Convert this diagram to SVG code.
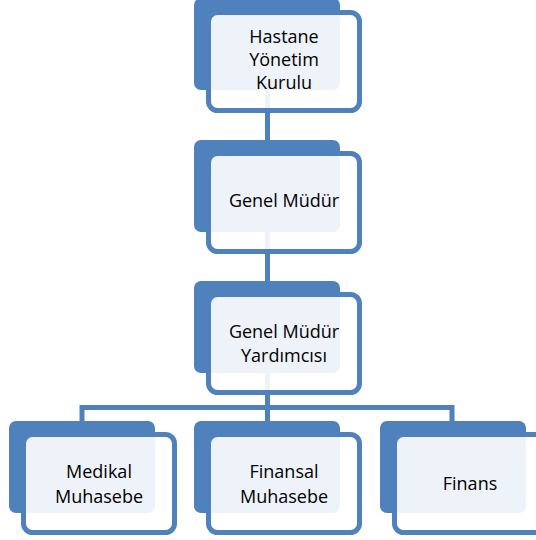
<svg xmlns="http://www.w3.org/2000/svg" width="536" height="540" viewBox="0 0 536 540">
<style>
.back{fill:#4F81BD}
.front{fill:#FFFFFF;fill-opacity:0.9;stroke:#4F81BD;stroke-width:5}
.conn{stroke:#4F81BD;stroke-width:5;fill:none}
text{font-family:"Open Sans","Liberation Sans",sans-serif;font-size:18px;fill:#000;text-anchor:middle}
</style>
<g id="connectors">
<line class="conn" x1="267.5" y1="80" x2="267.5" y2="150"/>
<line class="conn" x1="267.5" y1="220" x2="267.5" y2="290"/>
<line class="conn" x1="267.5" y1="360" x2="267.5" y2="407.5"/>
<polyline class="conn" points="82,430 82,407.5 452,407.5 452,430"/>
<line class="conn" x1="267.5" y1="407.5" x2="267.5" y2="430"/>
</g>
<g id="n1">
<rect class="back" x="194" y="-2" width="146" height="92" rx="7"/>
<rect class="front" x="208.5" y="12.5" width="151" height="98" rx="9"/>
<text x="284" y="43">Hastane</text>
<text x="284" y="66">Yönetim</text>
<text x="284" y="88.5">Kurulu</text>
</g>
<g id="n2">
<rect class="back" x="194" y="140" width="146" height="92" rx="7"/>
<rect class="front" x="208.5" y="153.5" width="151" height="98" rx="9"/>
<text x="284" y="207">Genel Müdür</text>
</g>
<g id="n3">
<rect class="back" x="194" y="281" width="146" height="92" rx="7"/>
<rect class="front" x="208.5" y="294.5" width="151" height="98" rx="9"/>
<text x="284" y="338">Genel Müdür</text>
<text x="284" y="362">Yardımcısı</text>
</g>
<g id="n4">
<rect class="back" x="9" y="421" width="146" height="92" rx="7"/>
<rect class="front" x="23.5" y="434.5" width="151" height="98" rx="9"/>
<text x="99" y="478">Medikal</text>
<text x="99" y="503">Muhasebe</text>
</g>
<g id="n5">
<rect class="back" x="194" y="421" width="146" height="92" rx="7"/>
<rect class="front" x="208.5" y="434.5" width="151" height="98" rx="9"/>
<text x="284" y="478">Finansal</text>
<text x="284" y="503">Muhasebe</text>
</g>
<g id="n6">
<rect class="back" x="380" y="421" width="146" height="92" rx="7"/>
<rect class="front" x="394.5" y="434.5" width="151" height="98" rx="9"/>
<text x="470" y="490">Finans</text>
</g>
</svg>
